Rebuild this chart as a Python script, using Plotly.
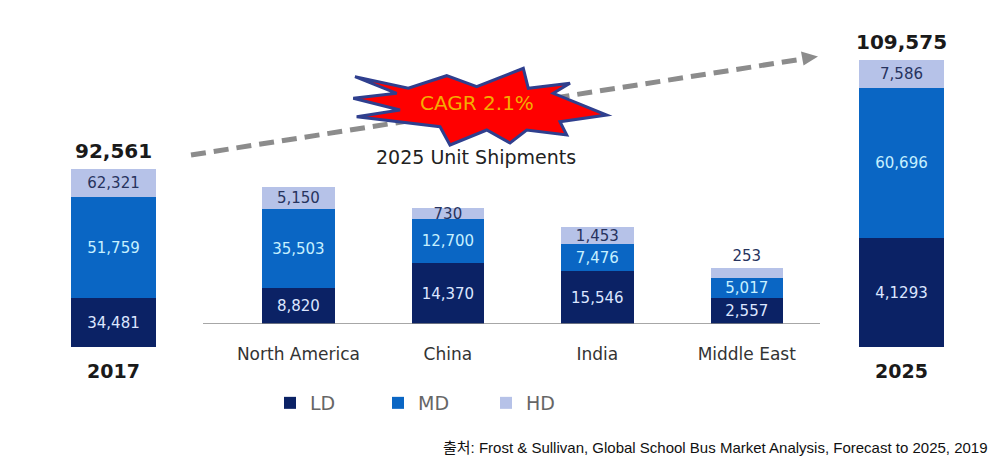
import plotly.graph_objects as go

# ---------------- data ----------------
years = ["2017", "2025"]
regions = ["North America", "China", "India", "Middle East"]
series = ["LD", "MD", "HD"]

# labels printed on the segments (as given in the source graphic)
year_ld_labels = ["34,481", "4,1293"]
year_md_labels = ["51,759", "60,696"]
year_hd_labels = ["62,321", "7,586"]
year_totals = ["92,561", "109,575"]

region_ld_labels = ["8,820", "14,370", "15,546", "2,557"]
region_md_labels = ["35,503", "12,700", "7,476", "5,017"]
region_hd_labels = ["5,150", "730", "1,453", "253"]

# segment heights as drawn in the graphic (it is not drawn to scale)
year_ld_height = [49, 109]
year_md_height = [101, 150]
year_hd_height = [28, 28]
region_ld_height = [36, 61, 53, 26]
region_md_height = [79, 44, 27, 20]
region_hd_height = [22, 11, 17, 10]

cagr_text = "CAGR 2.1%"
subtitle_text = "2025 Unit Shipments"
source_text = "출처: Frost & Sullivan, Global School Bus Market Analysis, Forecast to 2025, 2019"

# ---------------- styles ----------------
W, H = 1003, 474
colors = {"LD": "#0b2265", "MD": "#0a66c4", "HD": "#b6c2e8"}
text_colors = {"LD": "#dce6ff", "MD": "#c6f0ff", "HD": "#27335e"}
FONT = "DejaVu Sans"


def px(x):
    return x / W


def py(y):
    return 1 - y / H


fig = go.Figure()

year_sets = {
    "LD": (year_ld_height, year_ld_labels),
    "MD": (year_md_height, year_md_labels),
    "HD": (year_hd_height, year_hd_labels),
}
region_sets = {
    "LD": (region_ld_height, region_ld_labels),
    "MD": (region_md_height, region_md_labels),
    "HD": (region_hd_height, region_hd_labels),
}

# side bars (2017 on x, 2025 on x3)
for i, xa in enumerate(["x", "x3"]):
    for s in series:
        h, lab = year_sets[s]
        fig.add_trace(go.Bar(
            x=[years[i]], y=[h[i]], text=[lab[i]], name=s,
            marker=dict(color=colors[s], line=dict(width=0)),
            textposition="inside", insidetextanchor="middle", textangle=0,
            constraintext="none",
            textfont=dict(family=FONT, size=15, color=text_colors[s]),
            width=1, xaxis=xa, yaxis="y", showlegend=False, hoverinfo="skip",
        ))

# regional bars (x2); the tiny top segment label sits on top of its bar
for s in series:
    h, lab = region_sets[s]
    tpos = ["inside" if (s != "HD" or v >= 11) else "outside" for v in h]
    fig.add_trace(go.Bar(
        x=regions, y=h, text=lab, name=s,
        marker=dict(color=colors[s], line=dict(width=0)),
        textposition=tpos, insidetextanchor="middle", textangle=0,
        constraintext="none", cliponaxis=False,
        textfont=dict(family=FONT, size=15, color=text_colors[s]),
        outsidetextfont=dict(family=FONT, size=15, color=text_colors[s]),
        width=0.485, xaxis="x2", yaxis="y2", showlegend=True,
    ))

# totals above side bars (category axes: position by category index)
for i, xa in enumerate(["x", "x3"]):
    tot = year_ld_height[i] + year_md_height[i] + year_hd_height[i]
    fig.add_annotation(
        x=0, y=tot, xref=xa, yref="y", text=year_totals[i],
        showarrow=False, xanchor="center", yanchor="bottom", yshift=4,
        font=dict(family=FONT, size=20, color="#1a1a1a", weight="bold"),
    )

# dashed growth arrow
x0, y0, x1, y1 = 191, 155, 806, 58.5
fig.add_shape(type="line", xref="paper", yref="paper",
              x0=px(x0), y0=py(y0), x1=px(x1), y1=py(y1),
              line=dict(color="#8c8c8c", width=5, dash="15px,8px"), layer="above")
tip = (818, 56.5)
b1, b2 = (803.5, 65.5), (801.0, 51.5)
fig.add_shape(type="path", xref="paper", yref="paper",
              path=f"M{px(tip[0])},{py(tip[1])} L{px(b1[0])},{py(b1[1])} L{px(b2[0])},{py(b2[1])} Z",
              fillcolor="#8c8c8c", line=dict(width=0), layer="above")

# starburst
burst = [(355, 76.7), (408.3, 88.3), (446.7, 75.7), (476.7, 86.7), (523.3, 68.3),
         (528.3, 88.3), (570, 83.3), (553.3, 93.3), (606.7, 115), (560, 121.7),
         (566.7, 135), (526.7, 130), (510, 143), (486.7, 130), (450, 145),
         (440, 126.7), (356.7, 116.7), (400, 110), (353.3, 98.3), (396.7, 93.3)]
path = "M" + " L".join(f"{px(a)},{py(b)}" for a, b in burst) + " Z"
fig.add_shape(type="path", xref="paper", yref="paper", path=path,
              fillcolor="#ff0000", line=dict(color="#2f3f8e", width=3), layer="above")

fig.add_annotation(x=px(477), y=py(103), xref="paper", yref="paper", text=cagr_text,
                   showarrow=False, xanchor="center", yanchor="middle",
                   font=dict(family=FONT, size=20, color="#f5ac00"))
fig.add_annotation(x=px(476), y=py(157), xref="paper", yref="paper", text=subtitle_text,
                   showarrow=False, xanchor="center", yanchor="middle",
                   font=dict(family=FONT, size=19, color="#222222"))

# baseline for regional bars
fig.add_shape(type="line", xref="paper", yref="y2", x0=px(203), x1=px(820), y0=0, y1=0,
              line=dict(color="#8a8a8a", width=1.5), layer="above")

# source
fig.add_annotation(x=px(990), y=py(447), xref="paper", yref="paper", text=source_text,
                   showarrow=False, xanchor="right", yanchor="middle",
                   font=dict(family="Liberation Sans, Noto Sans CJK KR", size=15, color="#111111"))

axis_common = dict(showgrid=False, zeroline=False, showline=False, ticks="", fixedrange=True,
                   type="category")
fig.update_layout(
    width=W, height=H, margin=dict(l=0, r=0, t=0, b=0),
    paper_bgcolor="white", plot_bgcolor="white",
    barmode="stack",
    xaxis=dict(domain=[px(71), px(156)], range=[-0.5, 0.5], anchor="y",
               tickfont=dict(family=FONT, size=19, color="#1a1a1a", weight="bold"),
               ticklabelstandoff=11, **axis_common),
    xaxis3=dict(domain=[px(859), px(944)], range=[-0.5, 0.5], anchor="y",
                tickfont=dict(family=FONT, size=19, color="#1a1a1a", weight="bold"),
                ticklabelstandoff=11, **axis_common),
    xaxis2=dict(domain=[px(223.7), px(821.5)], range=[-0.5, 3.5], anchor="y2",
                tickfont=dict(family=FONT, size=17, color="#333333"),
                ticklabelstandoff=18, **axis_common),
    yaxis=dict(domain=[py(347), 1], range=[0, 347], visible=False, fixedrange=True),
    yaxis2=dict(domain=[py(324), 1], range=[0, 324], visible=False, fixedrange=True),
    legend=dict(orientation="h", x=px(270), y=py(403), xanchor="left", yanchor="middle",
                entrywidth=63, entrywidthmode="pixels",
                font=dict(family=FONT, size=19, color="#666666"),
                bgcolor="rgba(0,0,0,0)", traceorder="normal"),
    showlegend=True,
)

fig.write_html("out.html", config={"displayModeBar": False},
               post_script="document.body.style.margin='0';document.body.style.overflow='hidden';")
